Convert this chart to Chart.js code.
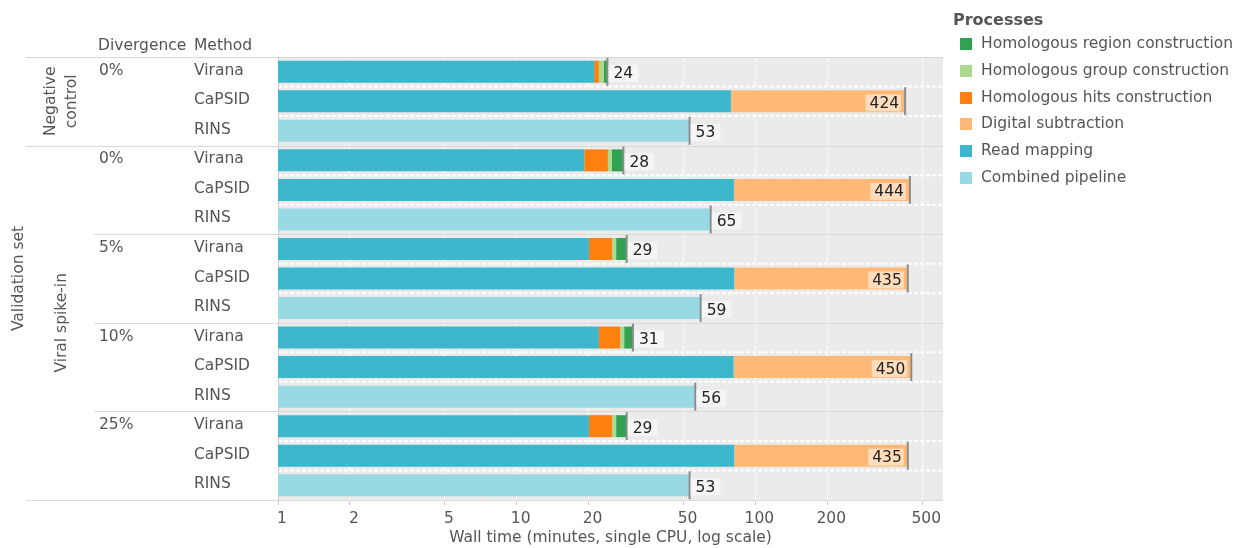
<!DOCTYPE html>
<html>
<head>
<meta charset="utf-8">
<script src="https://cdn.jsdelivr.net/npm/chart.js@4.4.1/dist/chart.umd.min.js"></script>
<style>
html,body{margin:0;padding:0;background:#fff;}
#wrap{position:relative;width:1251px;height:548px;}
canvas{display:block;}
</style>
</head>
<body>
<div id="wrap"><canvas id="c" width="1251" height="548"></canvas></div>
<script>
// ---- data ----
const validationSets = ['Negative control', 'Viral spike-in'];
const setRowCounts = [3, 12];
const divergences = ['0%', '0%', '5%', '10%', '25%'];
const methods = ['Virana', 'CaPSID', 'RINS', 'Virana', 'CaPSID', 'RINS', 'Virana', 'CaPSID', 'RINS',
                 'Virana', 'CaPSID', 'RINS', 'Virana', 'CaPSID', 'RINS'];
const readMapping   = [21.1, 79, null, 19.2, 81.3, null, 20.1, 81.5, null, 22.1, 81, null, 20.1, 81.5, null];
const hitsConstr    = [1.0, null, null, 4.9, null, null, 5.0, null, null, 5.0, null, null, 5.0, null, null];
const groupConstr   = [1.1, null, null, 0.9, null, null, 1.0, null, null, 1.1, null, null, 1.0, null, null];
const regionConstr  = [0.8, null, null, 3.0, null, null, 2.8, null, null, 2.5, null, null, 2.8, null, null];
const digitalSub    = [null, 345, null, null, 362.7, null, null, 353.5, null, null, 369, null, null, 353.5, null];
const combined      = [null, null, 53, null, null, 65, null, null, 59, null, null, 56, null, null, 53];
const tickValues = [1, 2, 5, 10, 20, 50, 100, 200, 500];
const legendTitle = 'Processes';
const legendOrder = ['Homologous region construction', 'Homologous group construction',
  'Homologous hits construction', 'Digital subtraction', 'Read mapping', 'Combined pipeline'];

const FONT = '"DejaVu Sans", Verdana, sans-serif';
const TXT = '#555555';

const datasets = [
  {label: 'Read mapping', data: readMapping, backgroundColor: '#3cb7cc'},
  {label: 'Homologous hits construction', data: hitsConstr, backgroundColor: '#ff7f0f'},
  {label: 'Homologous group construction', data: groupConstr, backgroundColor: '#acd98d'},
  {label: 'Homologous region construction', data: regionConstr, backgroundColor: '#32a251'},
  {label: 'Digital subtraction', data: digitalSub, backgroundColor: '#ffb977'},
  {label: 'Combined pipeline', data: combined, backgroundColor: '#98d9e4'}
];
datasets.forEach(d => { d.barPercentage = 0.745; d.categoryPercentage = 1; d.borderWidth = 0; });

const labels = methods.map((m, i) => i + ':' + m);

const tablePlugin = {
  id: 'tablePlugin',
  beforeDraw(chart) {
    const {ctx, chartArea: a} = chart;
    ctx.save();
    ctx.fillStyle = '#ebebeb';
    ctx.fillRect(a.left, a.top, a.right - a.left, a.bottom - a.top);
    ctx.restore();
  },
  beforeDatasetsDraw(chart) {
    const {ctx, chartArea: a, scales: {y}} = chart;
    const n = methods.length;
    const rowH = (a.bottom - a.top) / n;
    ctx.save();
    // row separators inside plot (dashed white)
    ctx.strokeStyle = '#ffffff';
    ctx.lineWidth = 2;
    ctx.setLineDash([4, 2]);
    for (let i = 0; i < n - 1; i++) {
      if ((i + 1) % 3 === 0) continue;
      const yy = y.getPixelForValue(i) + rowH / 2;
      ctx.beginPath(); ctx.moveTo(a.left, yy); ctx.lineTo(a.right, yy); ctx.stroke();
    }
    ctx.setLineDash([]);
    // group separators
    ctx.strokeStyle = '#d9d9d9';
    ctx.lineWidth = 1;
    let rowIdx = 0;
    const setStarts = [0];
    setRowCounts.forEach(c => { rowIdx += c; setStarts.push(rowIdx); });
    for (let g = 0; g <= n / 3; g++) {
      const yy = Math.round(a.top + g * 3 * rowH) + 0.5;
      const isSet = setStarts.includes(g * 3);
      ctx.beginPath(); ctx.moveTo(isSet ? 26 : 94, yy); ctx.lineTo(a.right, yy); ctx.stroke();
    }
    // plot left border
    ctx.strokeStyle = '#cccccc';
    ctx.beginPath(); ctx.moveTo(Math.round(a.left) + 0.5, a.top); ctx.lineTo(Math.round(a.left) + 0.5, a.bottom + 5); ctx.stroke();

    // texts
    ctx.fillStyle = TXT;
    ctx.font = '15.5px ' + FONT;
    ctx.textBaseline = 'middle';
    ctx.textAlign = 'left';
    ctx.fillText('Divergence', 98, a.top - 11.5);
    ctx.fillText('Method', 194, a.top - 11.5);
    for (let i = 0; i < n; i++) {
      const cy = y.getPixelForValue(i) - 1;
      ctx.fillText(methods[i], 194, cy);
      if (i % 3 === 0) ctx.fillText(divergences[i / 3], 99, cy);
    }
    // rotated labels
    const rot = (lines, x, yc, lh) => {
      ctx.save();
      ctx.translate(x, yc);
      ctx.rotate(-Math.PI / 2);
      ctx.textAlign = 'center';
      lines.forEach((t, k) => ctx.fillText(t, 0, (k - (lines.length - 1) / 2) * lh));
      ctx.restore();
    };
    rot(['Validation set'], 19, (a.top + a.bottom) / 2, 20);
    const s0 = a.top + setStarts[0] * rowH, s1 = a.top + setStarts[1] * rowH, s2 = a.top + setStarts[2] * rowH;
    rot(['Negative', 'control'], 61.5, (s0 + s1) / 2, 21);
    rot(['Viral spike-in'], 62, (s1 + s2) / 2, 21);
    ctx.restore();
  },
  afterDatasetsDraw(chart) {
    const {ctx, chartArea: a, scales: {x, y}} = chart;
    const n = methods.length;
    ctx.save();
    ctx.font = '15.5px ' + FONT;
    ctx.textBaseline = 'middle';
    for (let i = 0; i < n; i++) {
      let total = 0;
      datasets.forEach(d => { if (d.data[i] != null) total += d.data[i]; });
      const px = x.getPixelForValue(total);
      const cy = y.getPixelForValue(i);
      const txt = String(Math.round(total));
      const w = ctx.measureText(txt).width;
      // marker
      ctx.strokeStyle = '#8c8c8c';
      ctx.lineWidth = 2;
      ctx.beginPath(); ctx.moveTo(px, cy - 14); ctx.lineTo(px, cy + 14); ctx.stroke();
      ctx.fillStyle = 'rgba(255,255,255,0.5)';
      let tx;
      if (px + 6 + w + 5 > a.right) {
        tx = px - 6 - w;
        ctx.fillRect(tx - 4, cy - 7, px - 4 - (tx - 4), 17);
      } else {
        tx = px + 6;
        ctx.fillRect(px + 1, cy - 7, w + 10, 17);
      }
      ctx.fillStyle = '#222222';
      ctx.textAlign = 'left';
      ctx.fillText(txt, tx, cy + 2.5);
    }
    ctx.restore();
  },
  afterDraw(chart) {
    const {ctx} = chart;
    ctx.save();
    ctx.fillStyle = TXT;
    ctx.textBaseline = 'middle';
    ctx.textAlign = 'left';
    ctx.font = 'bold 16px ' + FONT;
    ctx.fillText(legendTitle, 953, 20.5);
    ctx.font = '15.5px ' + FONT;
    legendOrder.forEach((name, k) => {
      const ds = datasets.find(d => d.label === name);
      const cy = 44.3 + k * 26.7;
      ctx.fillStyle = ds.backgroundColor;
      ctx.fillRect(960, Math.round(cy - 6), 12, 12);
      ctx.fillStyle = TXT;
      ctx.fillText(name, 981, cy);
    });
    ctx.restore();
  }
};

new Chart(document.getElementById('c'), {
  type: 'bar',
  data: {labels, datasets},
  options: {
    indexAxis: 'y',
    responsive: false,
    animation: false,
    devicePixelRatio: 1,
    layout: {padding: {left: 278, right: 308, top: 57, bottom: 0}},
    plugins: {legend: {display: false}, tooltip: {enabled: false}},
    scales: {
      y: {type: 'category', stacked: true, display: false},
      x: {
        type: 'logarithmic',
        stacked: true,
        min: 1,
        max: 611,
        afterBuildTicks: s => { s.ticks = tickValues.map(v => ({value: v})); },
        afterFit: s => { s.height = 48; },
        grid: {color: '#ffffff', lineWidth: 1, tickColor: '#cccccc', tickLength: 5, tickBorderDash: [], drawTicks: true},
        border: {display: false, dash: [5, 3]},
        ticks: {
          autoSkip: false, maxRotation: 0, padding: 5, labelOffset: 4, color: TXT,
          font: {family: FONT, size: 15.5},
          callback: v => String(v)
        },
        title: {display: true, text: 'Wall time (minutes, single CPU, log scale)', color: TXT,
          font: {family: FONT, size: 15.5}, padding: {top: 0, bottom: 1}}
      }
    }
  },
  plugins: [tablePlugin]
});
</script>
</body>
</html>
